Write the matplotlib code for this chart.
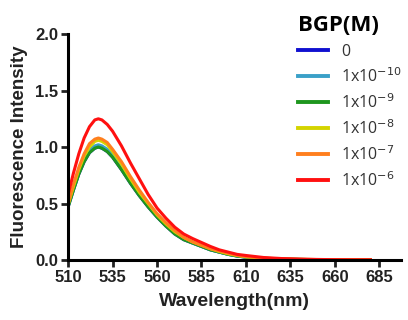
import matplotlib
matplotlib.use("Agg")
import matplotlib.pyplot as plt

# Wavelength grid (nm)
wavelength = [510, 513, 516, 519, 522, 525, 527, 529, 532, 535, 540, 545, 550, 555,
              560, 565, 570, 575, 580, 585, 590, 595, 600, 605, 610, 620, 630, 640,
              650, 660, 670, 680]

# Fluorescence intensity for each BGP concentration
int_0 = [0.47, 0.62, 0.76, 0.87, 0.95, 0.99, 1.00, 0.99, 0.96, 0.91, 0.80, 0.68, 0.57, 0.47,
         0.38, 0.30, 0.23, 0.18, 0.15, 0.12, 0.09, 0.07, 0.05, 0.035, 0.025, 0.014, 0.008, 0.005,
         0.003, 0.002, 0.001, 0.001]
int_1e10 = [0.48, 0.63, 0.78, 0.89, 0.97, 1.01, 1.02, 1.01, 0.98, 0.93, 0.82, 0.69, 0.58, 0.48,
            0.39, 0.31, 0.24, 0.19, 0.15, 0.12, 0.09, 0.07, 0.05, 0.036, 0.026, 0.015, 0.008, 0.005,
            0.003, 0.002, 0.001, 0.001]
int_1e9 = [0.47, 0.62, 0.76, 0.87, 0.95, 0.99, 1.00, 0.99, 0.96, 0.91, 0.80, 0.68, 0.57, 0.47,
           0.38, 0.30, 0.23, 0.18, 0.15, 0.12, 0.09, 0.07, 0.05, 0.035, 0.025, 0.014, 0.008, 0.005,
           0.003, 0.002, 0.001, 0.001]
int_1e8 = [0.49, 0.65, 0.80, 0.92, 1.00, 1.05, 1.06, 1.05, 1.02, 0.96, 0.85, 0.72, 0.60, 0.50,
           0.40, 0.32, 0.25, 0.20, 0.16, 0.13, 0.10, 0.075, 0.055, 0.04, 0.028, 0.016, 0.009, 0.006,
           0.004, 0.002, 0.002, 0.001]
int_1e7 = [0.50, 0.67, 0.82, 0.94, 1.03, 1.07, 1.08, 1.07, 1.04, 0.98, 0.87, 0.74, 0.62, 0.51,
           0.41, 0.33, 0.26, 0.20, 0.16, 0.13, 0.10, 0.08, 0.06, 0.042, 0.03, 0.017, 0.01, 0.006,
           0.004, 0.003, 0.002, 0.001]
int_1e6 = [0.58, 0.77, 0.94, 1.08, 1.18, 1.24, 1.25, 1.24, 1.20, 1.14, 1.01, 0.86, 0.72, 0.58,
           0.46, 0.37, 0.29, 0.23, 0.19, 0.155, 0.12, 0.09, 0.07, 0.05, 0.04, 0.022, 0.013, 0.008,
           0.005, 0.003, 0.002, 0.002]

series = [int_0, int_1e10, int_1e9, int_1e8, int_1e7, int_1e6]
labels = ["0", "1x10$^{-10}$", "1x10$^{-9}$", "1x10$^{-8}$", "1x10$^{-7}$", "1x10$^{-6}$"]
colors = ["#1010d0", "#3aa0c8", "#1e961e", "#d4d400", "#ff7f1e", "#ff1010"]

xticks = [510, 535, 560, 585, 610, 635, 660, 685]
yticks = [0.0, 0.5, 1.0, 1.5, 2.0]

fig = plt.figure(figsize=(4.08, 3.20), dpi=100)
ax = fig.add_axes([0.167, 0.1875, 0.815, 0.706])

for vals, lab, col in zip(series, labels, colors):
    ax.plot(wavelength, vals, color=col, lw=2.2, label=lab)

ax.set_xlim(510, 697)
ax.set_ylim(0, 2.0)
ax.set_xticks(xticks)
ax.set_yticks(yticks)
ax.set_yticklabels([f"{v:.1f}" for v in yticks])

for side in ["top", "right"]:
    ax.spines[side].set_visible(False)
for side in ["left", "bottom"]:
    ax.spines[side].set_linewidth(2.2)
ax.tick_params(width=2.0, length=5, direction="out", labelsize=12, colors="#222222", pad=2)
for lab in ax.get_xticklabels() + ax.get_yticklabels():
    lab.set_fontweight("bold")
    lab.set_family("Liberation Sans")

ax.set_xlabel("Wavelength(nm)", fontsize=14, fontweight="bold", family="Liberation Sans",
              color="#222222", labelpad=6)
ax.set_ylabel("Fluorescence Intensity", fontsize=13.5, fontweight="bold", family="Liberation Sans",
              color="#222222", labelpad=5)

leg = ax.legend(loc="upper left", bbox_to_anchor=(0.672, 1.112), frameon=False,
                title="BGP(M)", handlelength=1.9, handletextpad=0.8, labelspacing=0.46,
                borderaxespad=0, prop={"family": "Open Sans", "size": 11.5})
leg.get_title().set_fontweight("bold")
leg.get_title().set_fontsize(16)
leg.get_title().set_family("Open Sans")
leg._legend_box.align = "left"
for t in leg.get_texts():
    t.set_color("#333333")
for h in leg.legend_handles:
    h.set_linewidth(2.8)

fig.savefig("out.png", dpi=100)
